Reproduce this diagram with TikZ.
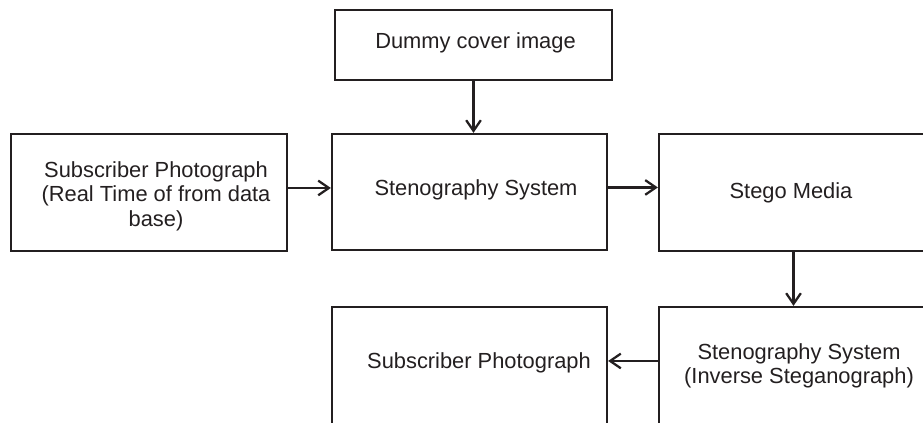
\documentclass[tikz,border=0pt]{standalone}
\usepackage{fontspec}
\setmainfont{Liberation Sans}
\usetikzlibrary{arrows.meta}
\definecolor{ink}{HTML}{231F20}
\tikzset{
  x=0.75pt, y=-0.75pt,
  box/.style={draw=ink, line width=1.7pt, inner sep=0pt},
  txt/.style={text=ink, inner sep=0pt, align=center,
    font=\fontsize{16.4}{18.3}\selectfont},
  arr/.style={-{Straight Barb[length=8pt,width=11pt]}, draw=ink, line width=1.7pt}
}
\begin{document}
\begin{tikzpicture}
\useasboundingbox (0,0) rectangle (923,423);
\clip (0,0) rectangle (923,423);
% boxes (pixel grid, y downwards)
\node[box, minimum width=277*0.75pt, minimum height=70*0.75pt]  (dummy)    at (473.5,45)    {};
\node[box, minimum width=275*0.75pt, minimum height=116*0.75pt] (stegosys) at (469.5,192)   {};
\node[box, minimum width=276*0.75pt, minimum height=117*0.75pt] (subin)    at (149,192.5)   {};
\node[box, minimum width=269*0.75pt, minimum height=117*0.75pt] (media)    at (793.5,192.5) {};
\node[box, minimum width=269*0.75pt, minimum height=117*0.75pt] (inverse)  at (793.5,365.5) {};
\node[box, minimum width=275*0.75pt, minimum height=117*0.75pt] (subout)   at (469.5,365.5) {};
% labels
\node[txt] (dummy-t)    at ([shift={(2,-2)}]dummy.center)      {Dummy cover image};
\node[txt] (stegosys-t) at ([shift={(6.5,-2)}]stegosys.center) {Stenography System};
\node[txt] (subin-t)    at ([shift={(7,3.5)}]subin.center)     {Subscriber Photograph\\(Real Time of from data\\base)};
\node[txt] (media-t)    at ([shift={(-2.5,0)}]media.center)    {Stego Media};
\node[txt] (inverse-t)  at ([shift={(5.5,0.5)}]inverse.center) {Stenography System\\(Inverse Steganograph)};
\node[txt] (subout-t)   at ([shift={(9.5,-2.5)}]subout.center) {Subscriber Photograph};
% connectors
\draw[arr] (dummy.south) -- (dummy.south |- stegosys.north);
\draw[arr] ([yshift=3.4pt]subin.east) -- ([yshift=3.4pt]subin.east -| stegosys.west);
\draw[arr] ([yshift=3.4pt]stegosys.east) -- ([yshift=3.4pt]stegosys.east -| media.west);
\draw[arr] (media.south) -- (media.south |- inverse.north);
\draw[arr] ([yshift=3.4pt]inverse.west) -- ([yshift=3.4pt]inverse.west -| subout.east);
\end{tikzpicture}
\end{document}
